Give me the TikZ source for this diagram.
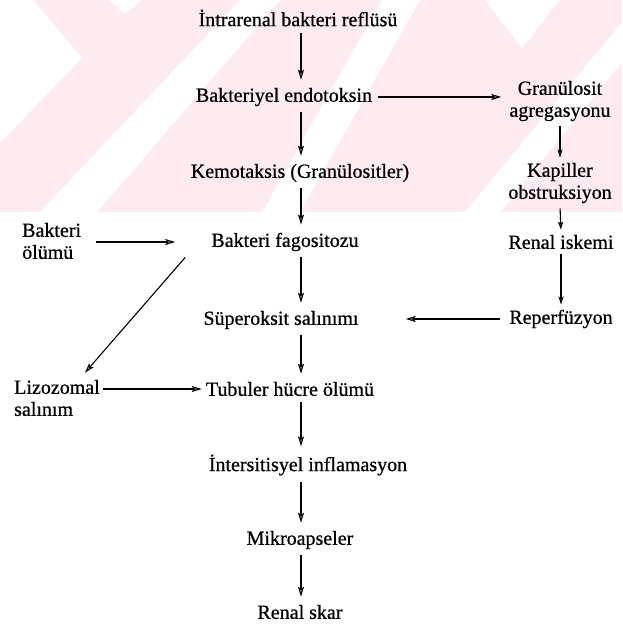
\documentclass[tikz,border=0pt]{standalone}
\usepackage{fontspec}
\setmainfont{Liberation Serif}[FakeBold=0.7]
\usepackage{tikz}
\usetikzlibrary{arrows.meta,calc,positioning}
\definecolor{wmpink}{RGB}{253,235,239}

\begin{document}
\begin{tikzpicture}[x=1pt,y=-1pt,
    txt/.style={font=\fontsize{20}{22}\selectfont, inner sep=3pt},
    twoline/.style={txt, align=center},
    leftline/.style={txt, align=left, anchor=west},
    flow/.style={-{Stealth[length=10pt,width=6pt,inset=2pt,fill=black!40]}, line width=1.1pt, shorten <=3pt, shorten >=5pt},
    smallflow/.style={flow, -{Stealth[length=8pt,width=5pt,inset=1.5pt,fill=black!40]}, shorten <=2pt, shorten >=2pt}]
    \useasboundingbox (0,0) rectangle (622,630);

    % Watermark (faint)
    \fill[wmpink] (0,0) rectangle (622,212);
    \fill[white] (0,0) -- (33,0) -- (82,58) -- (0,143) -- cycle;
    \fill[white] (108,0) -- (142,0) -- (125,14) -- cycle;
    \fill[white] (40,212) -- (97,212) -- (280,0) -- (240,0) -- cycle;
    \fill[white] (262,212) -- (300,212) -- (420,0) -- (382,0) -- cycle;
    \fill[white] (465,212) -- (500,212) -- (622,62) -- (622,22) -- cycle;
    \fill[white] (485,0) -- (560,0) -- (522,48) -- cycle;

    % Main column
    \coordinate (col) at (301,0);
    \node[txt] (top) at (298,18) {İntrarenal bakteri reflüsü};
    \node[txt] (endo) at (284,97) {Bakteriyel endotoksin};
    \node[txt] (kemo) at (300,173) {Kemotaksis (Granülositler)};
    \node[txt] (fago) at (285,242) {Bakteri fagositozu};
    \node[txt] (super) at (281,320) {Süperoksit salınımı};
    \node[txt] (tub) at (290,389) {Tubuler hücre ölümü};
    \node[txt] (inter) at (308,465) {İntersitisyel inflamasyon};
    \node[txt] (micro) at (300,540) {Mikroapseler};
    \node[txt] (scar) at (300,612) {Renal skar};

    % Right column
    \node[twoline] (gran) at (560,101) {Granülosit\\ agregasyonu};
    \node[twoline] (kap) at (560,183) {Kapiller\\obstruksiyon};
    \node[txt] (isch) at (561,242) {Renal iskemi};
    \node[txt] (reperf) at (561,319) {Reperfüzyon};

    % Left column
    \node[leftline] (death) at (19,241) {Bakteri\\ölümü};
    \node[leftline] (lyso) at (11,398) {Lizozomal\\salınım};

    % Arrows
    \foreach \a/\b in {top/endo, endo/kemo, kemo/fago, fago/super, super/tub, tub/inter, inter/micro, micro/scar}
        \draw[flow] (\a.south -| col) -- (\b.north -| col);
    \foreach \a/\b in {gran/kap, kap/isch, isch/reperf}
        \draw[smallflow] (\a.south) -- (\b.north);
    \draw[flow] (endo.east) -- (endo.east -| gran.west);
    \draw[flow, shorten <=12pt, shorten >=33pt] (death.east |- fago) -- (fago.west);
    \draw[flow, shorten <=6pt, shorten >=44pt] (reperf.west) -- (reperf.west -| super.east);
    \draw[flow, shorten <=0pt, shorten >=1pt] (lyso.east |- tub) -- (tub.west);
    \draw[flow, shorten <=0pt, shorten >=0pt] ($(fago.south west)+(-23,3)$) -- ($(lyso.north east)+(-18,-4)$);
\end{tikzpicture}
\end{document}
